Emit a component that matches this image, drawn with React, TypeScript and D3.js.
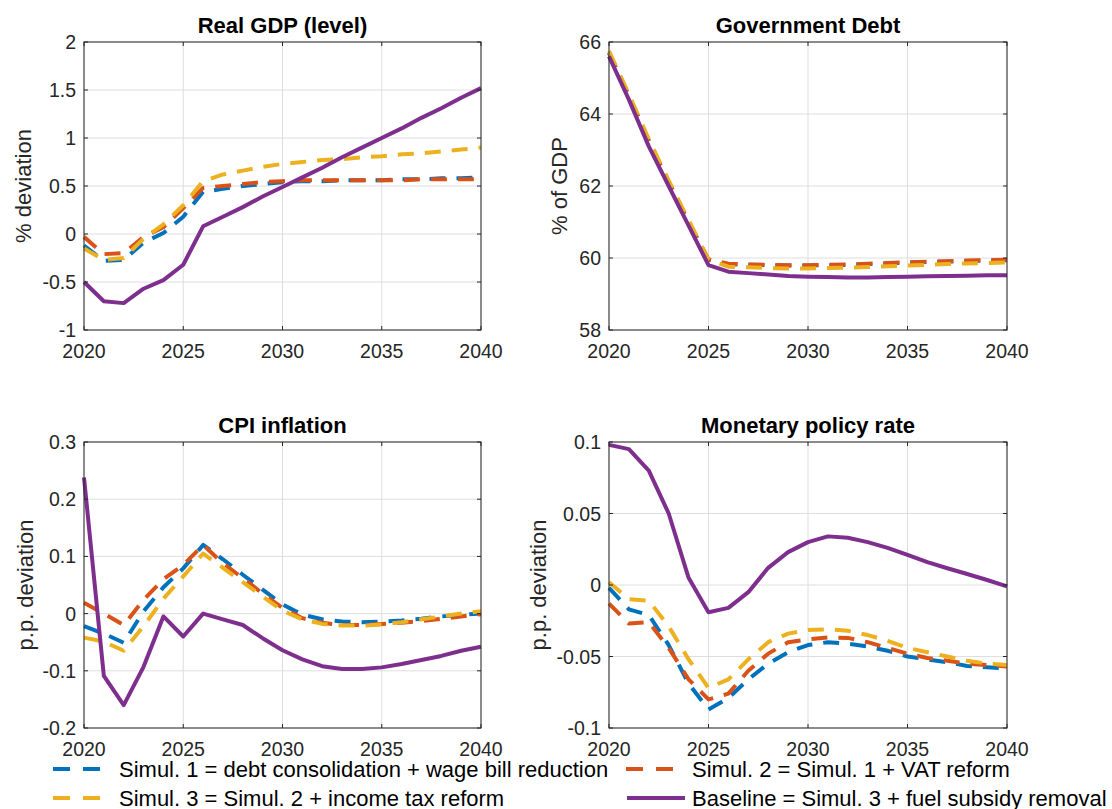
import React from 'react';
import * as d3 from 'd3';

const years = [2020, 2021, 2022, 2023, 2024, 2025, 2026, 2027, 2028, 2029, 2030, 2031, 2032, 2033, 2034, 2035, 2036, 2037, 2038, 2039, 2040];
const xTicks = [2020, 2025, 2030, 2035, 2040];

const gdpSim1 = [-0.12, -0.28, -0.27, -0.09, 0.01, 0.18, 0.44, 0.47, 0.5, 0.52, 0.54, 0.55, 0.55, 0.56, 0.56, 0.56, 0.57, 0.57, 0.58, 0.58, 0.59];
const gdpSim2 = [-0.03, -0.21, -0.2, -0.03, 0.07, 0.27, 0.48, 0.5, 0.52, 0.54, 0.55, 0.56, 0.56, 0.56, 0.56, 0.56, 0.56, 0.57, 0.57, 0.57, 0.57];
const gdpSim3 = [-0.15, -0.27, -0.25, -0.05, 0.1, 0.3, 0.55, 0.62, 0.66, 0.7, 0.73, 0.75, 0.77, 0.78, 0.8, 0.81, 0.83, 0.84, 0.86, 0.88, 0.9];
const gdpBase = [-0.5, -0.7, -0.72, -0.57, -0.48, -0.32, 0.08, 0.18, 0.28, 0.39, 0.49, 0.59, 0.69, 0.8, 0.9, 1.0, 1.1, 1.21, 1.31, 1.42, 1.52];
const gdpTicks = [-1, -0.5, 0, 0.5, 1, 1.5, 2];

const debtSim1 = [65.7, 64.5, 63.25, 62.1, 61.0, 59.95, 59.83, 59.81, 59.8, 59.79, 59.79, 59.8, 59.81, 59.83, 59.85, 59.87, 59.89, 59.9, 59.92, 59.93, 59.94];
const debtSim2 = [65.7, 64.5, 63.26, 62.11, 61.01, 59.96, 59.84, 59.82, 59.81, 59.8, 59.8, 59.81, 59.82, 59.84, 59.86, 59.88, 59.9, 59.91, 59.93, 59.94, 59.95];
const debtSim3 = [65.75, 64.55, 63.3, 62.15, 61.05, 59.95, 59.76, 59.74, 59.72, 59.71, 59.71, 59.72, 59.73, 59.75, 59.77, 59.79, 59.81, 59.83, 59.85, 59.86, 59.88];
const debtBase = [65.6, 64.4, 63.1, 62.0, 60.9, 59.8, 59.62, 59.58, 59.54, 59.5, 59.48, 59.47, 59.46, 59.46, 59.47, 59.48, 59.49, 59.5, 59.51, 59.52, 59.52];
const debtTicks = [58, 60, 62, 64, 66];

const cpiSim1 = [-0.022, -0.035, -0.051, 0.004, 0.046, 0.079, 0.12, 0.095, 0.068, 0.042, 0.016, -0.002, -0.01, -0.014, -0.015, -0.014, -0.012, -0.009, -0.005, -0.002, 0.0];
const cpiSim2 = [0.019, 0.0, -0.02, 0.024, 0.06, 0.085, 0.12, 0.088, 0.062, 0.035, 0.01, -0.008, -0.016, -0.02, -0.02, -0.018, -0.016, -0.013, -0.009, -0.005, -0.001];
const cpiSim3 = [-0.042, -0.049, -0.065, -0.022, 0.026, 0.065, 0.105, 0.08, 0.055, 0.03, 0.005, -0.01, -0.018, -0.021, -0.021, -0.019, -0.015, -0.01, -0.005, 0.0, 0.004];
const cpiBase = [0.238, -0.109, -0.16, -0.093, -0.005, -0.04, 0.0, -0.01, -0.02, -0.043, -0.064, -0.08, -0.092, -0.097, -0.097, -0.094, -0.088, -0.081, -0.074, -0.065, -0.058];
const cpiTicks = [-0.2, -0.1, 0, 0.1, 0.2, 0.3];

const mprSim1 = [-0.002, -0.017, -0.021, -0.042, -0.069, -0.087, -0.079, -0.066, -0.055, -0.047, -0.042, -0.04, -0.041, -0.043, -0.046, -0.05, -0.052, -0.054, -0.0566, -0.0575, -0.0585];
const mprSim2 = [-0.013, -0.027, -0.026, -0.044, -0.066, -0.08, -0.076, -0.06, -0.048, -0.04, -0.038, -0.0366, -0.037, -0.04, -0.044, -0.048, -0.051, -0.053, -0.055, -0.056, -0.057];
const mprSim3 = [0.002, -0.01, -0.011, -0.029, -0.052, -0.072, -0.066, -0.052, -0.04, -0.034, -0.0315, -0.031, -0.032, -0.035, -0.039, -0.044, -0.047, -0.05, -0.053, -0.055, -0.056];
const mprBase = [0.098, 0.095, 0.08, 0.05, 0.005, -0.019, -0.016, -0.005, 0.012, 0.023, 0.03, 0.034, 0.033, 0.03, 0.026, 0.021, 0.016, 0.0117, 0.0077, 0.0035, -0.001];
const mprTicks = [-0.1, -0.05, 0, 0.05, 0.1];

const legendLabels = [
  'Simul. 1 = debt consolidation + wage bill reduction',
  'Simul. 2 = Simul. 1 + VAT reform',
  'Simul. 3 = Simul. 2 + income tax reform',
  'Baseline = Simul. 3 + fuel subsidy removal',
];

const COLORS = ['#0072BD', '#D95319', '#EDB120', '#7E2F8E'];
const DASH = '16 11';
const LW = 4;
const FONT = '"Liberation Sans", Arial, Helvetica, sans-serif';
const AXC = '#262626';

type PanelDef = {
  title: string;
  ylabel: string;
  left: number; right: number; top: number; bottom: number;
  ylabelX: number;
  ticks: number[];
  series: number[][];
};

const panels: PanelDef[] = [
  { title: 'Real GDP (level)', ylabel: '% deviation', left: 84, right: 481, top: 42, bottom: 330, ylabelX: 23, ticks: gdpTicks, series: [gdpSim1, gdpSim2, gdpSim3, gdpBase] },
  { title: 'Government Debt', ylabel: '% of GDP', left: 609, right: 1007, top: 42, bottom: 330, ylabelX: 559, ticks: debtTicks, series: [debtSim1, debtSim2, debtSim3, debtBase] },
  { title: 'CPI inflation', ylabel: 'p.p. deviation', left: 84, right: 481, top: 442, bottom: 728, ylabelX: 25, ticks: cpiTicks, series: [cpiSim1, cpiSim2, cpiSim3, cpiBase] },
  { title: 'Monetary policy rate', ylabel: 'p.p. deviation', left: 609, right: 1007, top: 442, bottom: 728, ylabelX: 538, ticks: mprTicks, series: [mprSim1, mprSim2, mprSim3, mprBase] },
];

function Panel({ p }: { p: PanelDef }) {
  const x = d3.scaleLinear().domain([2020, 2040]).range([p.left, p.right]);
  const y = d3.scaleLinear().domain([p.ticks[0], p.ticks[p.ticks.length - 1]]).range([p.bottom, p.top]);
  const line = d3.line<number>().x((_, i) => x(years[i])).y((d) => y(d));
  const tl = 4;
  const cx = (p.left + p.right) / 2;
  const cy = (p.top + p.bottom) / 2;
  return (
    <g>
      {/* grid */}
      {xTicks.map((t) => (
        <line key={'gx' + t} x1={x(t)} x2={x(t)} y1={p.top} y2={p.bottom} stroke="#dedede" strokeWidth={1} />
      ))}
      {p.ticks.map((t) => (
        <line key={'gy' + t} x1={p.left} x2={p.right} y1={y(t)} y2={y(t)} stroke="#dedede" strokeWidth={1} />
      ))}
      {/* series */}
      {p.series.map((s, i) => (
        <path key={'s' + i} d={line(s) || ''} fill="none" stroke={COLORS[i]} strokeWidth={LW}
          strokeDasharray={i < 3 ? DASH : undefined} strokeLinejoin="round" />
      ))}
      {/* box */}
      <rect x={p.left} y={p.top} width={p.right - p.left} height={p.bottom - p.top} fill="none" stroke={AXC} strokeWidth={1} />
      {/* ticks */}
      {xTicks.map((t) => (
        <g key={'tx' + t}>
          <line x1={x(t)} x2={x(t)} y1={p.bottom} y2={p.bottom - tl} stroke={AXC} />
          <line x1={x(t)} x2={x(t)} y1={p.top} y2={p.top + tl} stroke={AXC} />
          <text x={x(t)} y={p.bottom + 28} textAnchor="middle" fontSize={19.5} fill={AXC} fontFamily={FONT}>{String(t)}</text>
        </g>
      ))}
      {p.ticks.map((t) => (
        <g key={'ty' + t}>
          <line x1={p.left} x2={p.left + tl} y1={y(t)} y2={y(t)} stroke={AXC} />
          <line x1={p.right} x2={p.right - tl} y1={y(t)} y2={y(t)} stroke={AXC} />
          <text x={p.left - 8} y={y(t)} dy="0.36em" textAnchor="end" fontSize={19.5} fill={AXC} fontFamily={FONT}>{String(t)}</text>
        </g>
      ))}
      <text x={cx} y={p.top - 9} textAnchor="middle" fontSize={22} fontWeight="bold" fill="#000" fontFamily={FONT}>{p.title}</text>
      <text transform={`translate(${p.ylabelX},${cy}) rotate(-90)`} dy="0.36em" textAnchor="middle" fontSize={22} fill={AXC} fontFamily={FONT}>{p.ylabel}</text>
    </g>
  );
}

export default function App() {
  const legendItems = [
    { x: 53, y: 769, tx: 119 },
    { x: 626, y: 769, tx: 692 },
    { x: 53, y: 798, tx: 119 },
    { x: 627, y: 798, tx: 692 },
  ];
  return (
    <div style={{ position: 'absolute', left: 0, top: 0 }}>
      <svg width={1112} height={809} viewBox="0 0 1112 809" style={{ display: 'block', background: '#fff' }}>
        <rect x={0} y={0} width={1112} height={809} fill="#fff" />
        {panels.map((p, i) => <Panel key={i} p={p} />)}
        {legendItems.map((it, i) => (
          <g key={'lg' + i}>
            <line x1={it.x} x2={it.x + 58} y1={it.y} y2={it.y} stroke={COLORS[i]} strokeWidth={LW}
              strokeDasharray={i < 3 ? '17 13' : undefined} />
            <text x={it.tx} y={it.y} dy="0.36em" fontSize={22} fill="#000" fontFamily={FONT}>{legendLabels[i]}</text>
          </g>
        ))}
      </svg>
    </div>
  );
}
